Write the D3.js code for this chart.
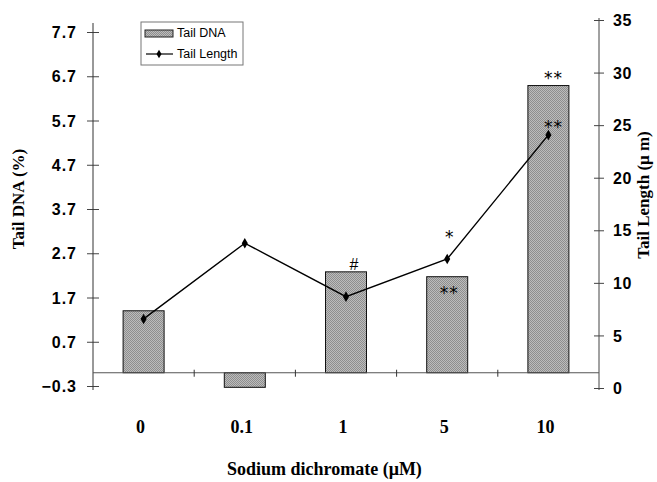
<!DOCTYPE html>
<html>
<head>
<meta charset="utf-8">
<script src="https://cdn.jsdelivr.net/npm/d3@7"></script>
<style>
  body { margin: 0; background: #fff; }
  svg text { fill: #000; }
</style>
</head>
<body>
<div id="chart"></div>
<script>
var width = 657, height = 482;

// data
var doses = ["0", "0.1", "1", "5", "10"];
var tailDNA = [1.40, -0.33, 2.28, 2.17, 6.49];
var tailLength = [6.57, 13.77, 8.69, 12.27, 24.07];
var leftTicks = [-0.3, 0.7, 1.7, 2.7, 3.7, 4.7, 5.7, 6.7, 7.7];
var rightTicks = [0, 5, 10, 15, 20, 25, 30, 35];
// significance marks: which dose, where it sits
var marks = [
  {i: 2, on: "overBar", text: "#"},
  {i: 3, on: "inBar", text: "**"},
  {i: 3, on: "overPoint", text: "*"},
  {i: 4, on: "overBar", text: "**"},
  {i: 4, on: "byPoint", text: "**"}
];

var left = 93, right = 599;

var svg = d3.select('#chart').append('svg')
  .attr('width', width)
  .attr('height', height);

// dither texture for the bars
var defs = svg.append('defs');
var pat = defs.append('pattern').attr('id', 'dither')
  .attr('width', 2).attr('height', 2)
  .attr('patternUnits', 'userSpaceOnUse');
pat.append('rect').attr('width', 2).attr('height', 2).attr('fill', '#bcbcbc');
pat.append('rect').attr('width', 1).attr('height', 1).attr('fill', '#8e8e8e');
pat.append('rect').attr('x', 1).attr('y', 1).attr('width', 1).attr('height', 1).attr('fill', '#8e8e8e');

var x = d3.scaleBand().domain(doses).range([left, right]).paddingInner(0).paddingOuter(0);
var y0 = d3.scaleLinear().domain([-0.3, 7.7]).range([386, 32]);
var y1 = d3.scaleLinear().domain([0, 35]).range([388, 20]);
var barW = 41;
var mid = function(i) {return x(doses[i]) + x.bandwidth() / 2;};

// left axis
var gl = svg.append('g').attr('transform', 'translate(' + left + ',0)')
  .call(d3.axisLeft(y0).tickValues(leftTicks).tickFormat(d3.format('.1f')).tickSizeOuter(0).tickSize(6).tickPadding(10));
gl.select('.domain').remove();
gl.append('line').attr('y1', 23).attr('y2', 390).attr('stroke', '#333');
gl.selectAll('.tick line').attr('x2', 6).attr('x1', -6).attr('stroke', '#444');
gl.selectAll('.tick text').attr('font-family', 'Arial, "Liberation Sans", sans-serif')
  .attr('font-weight', 'bold').attr('font-size', 16).attr('letter-spacing', 1).attr('dy', '0.35em');

// right axis
var gr = svg.append('g').attr('transform', 'translate(' + right + ',0)')
  .call(d3.axisRight(y1).tickValues(rightTicks).tickSizeOuter(0).tickSize(6).tickPadding(8));
gr.select('.domain').remove();
gr.append('line').attr('y1', 18).attr('y2', 390).attr('stroke', '#444');
gr.selectAll('.tick line').attr('x1', -5).attr('x2', 5).attr('stroke', '#444');
gr.selectAll('.tick text').attr('font-family', 'Arial, "Liberation Sans", sans-serif')
  .attr('font-weight', 'bold').attr('font-size', 16).attr('letter-spacing', 0.5).attr('dy', '0.35em');

// bars
svg.selectAll('rect.bar').data(tailDNA).enter().append('rect')
  .attr('class', 'bar')
  .attr('x', function(d, i) {return mid(i) - barW / 2;})
  .attr('width', barW)
  .attr('y', function(d) {return y0(Math.max(0, d));})
  .attr('height', function(d) {return Math.abs(y0(d) - y0(0));})
  .attr('fill', 'url(#dither)')
  .attr('stroke', '#111').attr('stroke-width', 1);

// baseline at 0 with category ticks
svg.append('line').attr('x1', left).attr('x2', right)
  .attr('y1', y0(0)).attr('y2', y0(0)).attr('stroke', '#555').attr('stroke-width', 1.2);
svg.selectAll('line.xtick').data(doses.slice(1)).enter().append('line')
  .attr('class', 'xtick')
  .attr('x1', function(d) {return x(d);}).attr('x2', function(d) {return x(d);})
  .attr('y1', y0(0) - 3).attr('y2', y0(0) + 4).attr('stroke', '#333');

// x labels
svg.selectAll('text.xlab').data(doses).enter().append('text')
  .attr('class', 'xlab')
  .attr('x', function(d, i) {return mid(i) - 3;})
  .attr('y', 433)
  .attr('text-anchor', 'middle')
  .attr('font-family', '"Times New Roman", "Liberation Serif", serif')
  .attr('font-weight', 'bold').attr('font-size', 18)
  .text(function(d) {return d;});

// line
svg.append('path').datum(tailLength)
  .attr('d', d3.line().x(function(d, i) {return mid(i);}).y(function(d) {return y1(d);}))
  .attr('fill', 'none').attr('stroke', '#000').attr('stroke-width', 1.4);
svg.selectAll('path.pt').data(tailLength).enter().append('path')
  .attr('class', 'pt')
  .attr('transform', function(d, i) {return 'translate(' + mid(i) + ',' + y1(d) + ')';})
  .attr('d', d3.symbol(d3.symbolDiamond, 32))
  .attr('fill', '#000');

// significance marks
var markY = {
  overBar: function(d) {return y0(tailDNA[d.i]) - 2;},
  inBar: function(d) {return y0(tailDNA[d.i]) + 22;},
  overPoint: function(d) {return y1(tailLength[d.i]) - 16;},
  byPoint: function(d) {return y1(tailLength[d.i]) - 2;}
};
svg.selectAll('text.mark').data(marks).enter().append('text')
  .attr('class', 'mark')
  .attr('x', function(d) {return mid(d.i) + (d.text == '#' ? 8 : (d.i == 4 ? 5 : 2));})
  .attr('y', function(d) {return markY[d.on](d);})
  .attr('text-anchor', 'middle')
  .attr('font-family', function(d) {return d.text == '#' ? 'Arial, "Liberation Sans", sans-serif' : '"DejaVu Sans", sans-serif';})
  .attr('font-size', function(d) {return d.text == '#' ? 16 : 17;})
  .attr('letter-spacing', function(d) {return d.text == '**' ? 1 : 0;})
  .text(function(d) {return d.text;});

// axis titles
svg.append('text')
  .attr('x', 227).attr('y', 475)
  .attr('font-family', '"Times New Roman", "Liberation Serif", serif')
  .attr('font-weight', 'bold').attr('font-size', 18)
  .text('Sodium dichromate (\u03bcM)');
svg.append('text')
  .attr('transform', 'translate(24,199) rotate(-90)')
  .attr('text-anchor', 'middle')
  .attr('font-family', '"Times New Roman", "Liberation Serif", serif')
  .attr('font-weight', 'bold').attr('font-size', 17)
  .text('Tail DNA (%)');
svg.append('text')
  .attr('transform', 'translate(649,195) rotate(-90)')
  .attr('text-anchor', 'middle')
  .attr('font-family', '"Times New Roman", "Liberation Serif", serif')
  .attr('font-weight', 'bold').attr('font-size', 17)
  .text('Tail Length (\u03bc m)');

// legend
var lg = svg.append('g').attr('transform', 'translate(141,22)');
lg.append('rect').attr('width', 102).attr('height', 43)
  .attr('fill', '#fff').attr('stroke', '#777').attr('stroke-width', 1);
lg.append('rect').attr('x', 4).attr('y', 8).attr('width', 28).attr('height', 7)
  .attr('fill', 'url(#dither)').attr('stroke', '#222');
lg.append('text').attr('x', 36).attr('y', 15)
  .attr('font-family', 'Arial, "Liberation Sans", sans-serif').attr('font-size', 12.5)
  .text('Tail DNA');
lg.append('line').attr('x1', 5).attr('x2', 32).attr('y1', 32).attr('y2', 32)
  .attr('stroke', '#000').attr('stroke-width', 1.2);
lg.append('path').attr('transform', 'translate(18,32)')
  .attr('d', d3.symbol(d3.symbolDiamond, 22)).attr('fill', '#000');
lg.append('text').attr('x', 36).attr('y', 36)
  .attr('font-family', 'Arial, "Liberation Sans", sans-serif').attr('font-size', 12.5)
  .text('Tail Length');
</script>
</body>
</html>
